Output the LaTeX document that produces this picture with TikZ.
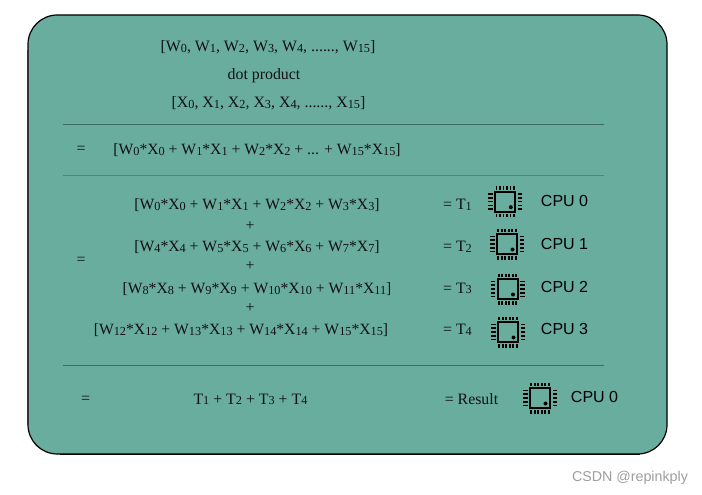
\documentclass[tikz,border=0pt]{standalone}
\usepackage{fontspec}
\setmainfont{Liberation Serif}
\newfontfamily\arialf{Liberation Sans}
\definecolor{panel}{HTML}{69AD9F}
\definecolor{rulec}{HTML}{3F6B62}
\definecolor{txt}{HTML}{111111}
\newcommand{\sbs}[1]{\raisebox{-0.5pt}{\fontsize{9.2}{9}\selectfont #1}}
\newcommand{\WX}[1]{W\sbs{#1}*X\sbs{#1}}
\tikzset{
  x=0.75pt,y=-0.75pt,
  eq/.style={font=\fontsize{11.9}{13}\selectfont,text=txt,inner sep=0pt,anchor=center},
  eqs/.style={eq,font=\fontsize{11.75}{13}\selectfont},
  cpu/.style={font=\arialf\fontsize{12}{14}\selectfont,text=black,inner sep=0pt,anchor=center},
  rulel/.style={draw=rulec,line width=0.6pt},
  wm/.style={font=\arialf\fontsize{10.7}{12}\selectfont,text=black!38,inner sep=0pt,anchor=center},
  chip/.pic={
    \draw[line width=1.5pt,black] (-10,-10) rectangle (10,10);
    \fill[black] (5.5,5.5) circle (2);
    \foreach \k in {-8.75,-5.25,-1.75,1.75,5.25,8.75}{
      \draw[line width=1.2pt] (\k,-15.5) -- (\k,-12);
      \draw[line width=1.2pt] (\k,15.5) -- (\k,12);
    }
    \foreach \k in {-7.6,-3.8,0,3.8,7.6}{
      \draw[line width=1.2pt] (-17,\k) -- (-12.5,\k);
      \draw[line width=1.2pt] (17,\k) -- (12.5,\k);
    }
  }
}
\begin{document}
\begin{tikzpicture}
\useasboundingbox (0,0) rectangle (702,495);
\path[fill=panel,draw=black,line width=0.9pt,rounded corners=22pt] (28,15) rectangle (667,454);
\draw[black!80,line width=1.2pt] (28,50) -- (28,425);
\draw[black,line width=1.2pt] (60,454.5) -- (640,454.5);

\node[eq] (a1) at (268,47.5) {[W\sbs0, W\sbs1, W\sbs2, W\sbs3, W\sbs4, ......, W\sbs{15}]};
\node[eq] (a2) at (264,75.5) {dot product};
\node[eq] (a3) at (268.5,103.5) {[X\sbs0, X\sbs1, X\sbs2, X\sbs3, X\sbs4, ......, X\sbs{15}]};
\draw[rulel] (63,124.5) -- (604,124.5);

\node[eq] (b0) at (81,150) {=};
\node[eqs] (b1) at (257,150) {[\WX0 + \WX1 + \WX2 + ... + \WX{15}]};
\draw[rulel,draw opacity=.6] (63,175.5) -- (604,175.5);

\node[eq] (c0) at (81,261) {=};
\node[eqs] (c1) at (257,205.5) {[\WX0 + \WX1 + \WX2 + \WX3]};
\node[eq] (p1) at (250,226) {+};
\node[eqs] (c2) at (257,247) {[\WX4 + \WX5 + \WX6 + \WX7]};
\node[eq] (p2) at (250,266) {+};
\node[eqs] (c3) at (257,289.5) {[\WX8 + \WX9 + \WX{10} + \WX{11}]};
\node[eq] (p3) at (250,308) {+};
\node[eqs] (c4) at (241,330.5) {[\WX{12} + \WX{13} + \WX{14} + \WX{15}]};

\node[eq] (t1) at (457.5,205) {= T\sbs1};
\node[eq] (t2) at (457.5,246.5) {= T\sbs2};
\node[eq] (t3) at (457.5,288.5) {= T\sbs3};
\node[eq] (t4) at (457.5,330) {= T\sbs4};

\pic at (505.3,201.7) {chip};
\pic at (507,244) {chip};
\pic at (507.5,289) {chip};
\pic at (508,332) {chip};
\pic at (540,398) {chip};

\node[cpu] (u0) at (564.5,201) {CPU 0};
\node[cpu] (u1) at (564.5,244) {CPU 1};
\node[cpu] (u2) at (564.5,287) {CPU 2};
\node[cpu] (u3) at (564.5,329) {CPU 3};
\node[cpu] (u4) at (594.5,397) {CPU 0};

\draw[rulel] (63,365.5) -- (604,365.5);

\node[eq] (d0) at (85.5,400) {=};
\node[eq] (d1) at (250.5,399.5) {T\sbs1 + T\sbs2 + T\sbs3 + T\sbs4};
\node[eq] (d2) at (471.5,399.5) {= Result};

\node[wm] (w) at (630,478) {CSDN @repinkply};
\end{tikzpicture}
\end{document}
